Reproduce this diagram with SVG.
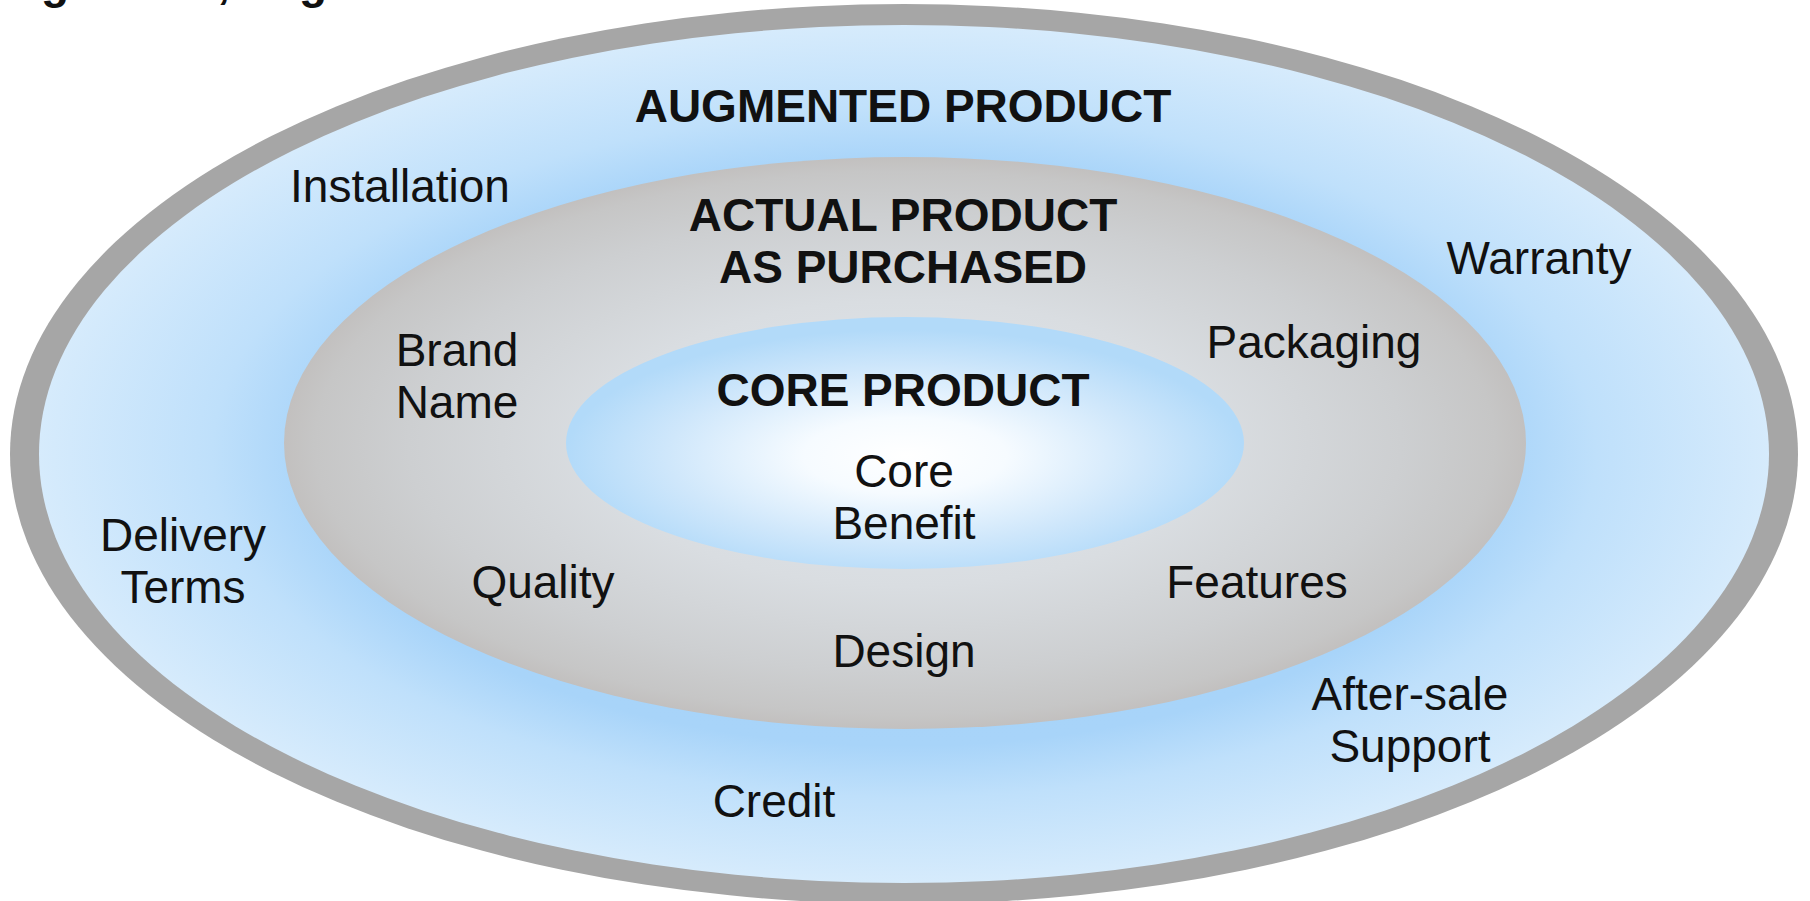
<svg xmlns="http://www.w3.org/2000/svg" width="1810" height="901" viewBox="0 0 1810 901">
<defs>
<radialGradient id="gOuter" cx="0.5" cy="0.5" r="0.5">
<stop offset="0" stop-color="#a4d2f8"/>
<stop offset="0.68" stop-color="#a8d4f9"/>
<stop offset="0.8" stop-color="#bfe0fb"/>
<stop offset="1" stop-color="#d6ebfc"/>
</radialGradient>
<radialGradient id="gMid" cx="0.5" cy="0.5" r="0.5">
<stop offset="0" stop-color="#e2e8ee"/>
<stop offset="0.5" stop-color="#d9dde1"/>
<stop offset="0.8" stop-color="#cdcfd1"/>
<stop offset="0.95" stop-color="#c6c6c6"/>
<stop offset="1" stop-color="#c2c0bf"/>
</radialGradient>
<radialGradient id="gCore" cx="0.5" cy="0.55" r="0.5">
<stop offset="0" stop-color="#ffffff"/>
<stop offset="0.3" stop-color="#f6fbff"/>
<stop offset="0.7" stop-color="#cfe7fb"/>
<stop offset="1" stop-color="#b2daf9"/>
</radialGradient>
<style>
text{font-family:"Liberation Sans",Arial,sans-serif;fill:#111;text-anchor:middle}
.b{font-weight:bold;font-size:46px}
.r{font-size:46px}
</style>
</defs>
<rect width="1810" height="901" fill="#ffffff"/>
<text x="0" y="-2" style="text-anchor:start;font-weight:bold;font-size:46px">Figure 8.1, Page</text>
<g id="augmented">
<ellipse cx="904" cy="454" rx="894" ry="450" fill="#a6a6a6"/>
<ellipse cx="904" cy="454" rx="865" ry="429" fill="url(#gOuter)"/>
<text class="b" x="903" y="122">AUGMENTED PRODUCT</text>
<text class="r" x="400" y="202">Installation</text>
<text class="r" x="1539" y="274">Warranty</text>
<text class="r" x="183" y="551">Delivery</text>
<text class="r" x="183" y="603">Terms</text>
<text class="r" x="1410" y="710">After-sale</text>
<text class="r" x="1410" y="762">Support</text>
<text class="r" x="774" y="817">Credit</text>
</g>
<g id="actual">
<ellipse cx="905" cy="443" rx="621" ry="286" fill="url(#gMid)"/>
<text class="b" x="903" y="231">ACTUAL PRODUCT</text>
<text class="b" x="903" y="283">AS PURCHASED</text>
<text class="r" x="457" y="366">Brand</text>
<text class="r" x="457" y="418">Name</text>
<text class="r" x="1314" y="358">Packaging</text>
<text class="r" x="543" y="598">Quality</text>
<text class="r" x="1257" y="598">Features</text>
<text class="r" x="904" y="667">Design</text>
</g>
<g id="core">
<ellipse cx="905" cy="443" rx="339" ry="126" fill="url(#gCore)"/>
<text class="b" x="903" y="406">CORE PRODUCT</text>
<text class="r" x="904" y="487">Core</text>
<text class="r" x="904" y="539">Benefit</text>
</g>
<g id="connectors"/>
</svg>
